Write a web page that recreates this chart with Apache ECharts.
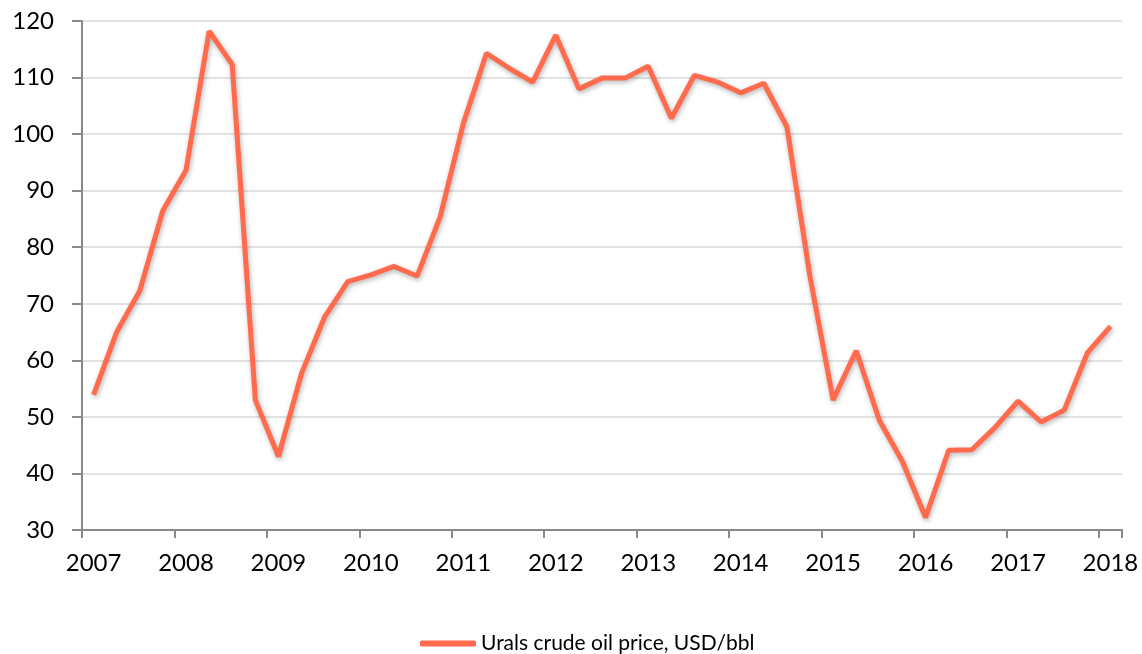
<!DOCTYPE html>
<html>
<head>
<meta charset="utf-8">
<script src="https://cdn.jsdelivr.net/npm/echarts@6/dist/echarts.min.js"></script>
<style>
html,body{margin:0;padding:0;background:#fff;}
#main{width:1142px;height:654px;}
</style>
</head>
<body>
<div id="main"></div>
<script>
// quarterly points, Q1 2007 .. Q1 2018
var quarters=[
  '2007 Q1','2007 Q2','2007 Q3','2007 Q4',
  '2008 Q1','2008 Q2','2008 Q3','2008 Q4',
  '2009 Q1','2009 Q2','2009 Q3','2009 Q4',
  '2010 Q1','2010 Q2','2010 Q3','2010 Q4',
  '2011 Q1','2011 Q2','2011 Q3','2011 Q4',
  '2012 Q1','2012 Q2','2012 Q3','2012 Q4',
  '2013 Q1','2013 Q2','2013 Q3','2013 Q4',
  '2014 Q1','2014 Q2','2014 Q3','2014 Q4',
  '2015 Q1','2015 Q2','2015 Q3','2015 Q4',
  '2016 Q1','2016 Q2','2016 Q3','2016 Q4',
  '2017 Q1','2017 Q2','2017 Q3','2017 Q4',
  '2018 Q1'
];
var uralsPrice=[
  53.9,65.0,72.3,86.5,
  93.6,118.2,112.3,53.0,
  43.0,57.7,67.7,73.9,
  75.1,76.6,74.9,85.4,
  101.9,114.3,111.6,109.2,
  117.5,108.0,109.9,109.9,
  112.0,102.8,110.4,109.2,
  107.3,109.0,101.3,74.8,
  53.0,61.7,49.4,42.1,
  32.2,44.1,44.2,48.1,
  52.8,49.1,51.2,61.3,
  66.0
];
var seriesName='Urals crude oil price, USD/bbl';

var myChart=echarts.init(document.getElementById('main'));
var fontFam='Lato, "Open Sans", sans-serif';
option={
  animation:false,
  backgroundColor:'#fff',
  grid:{left:82,right:20,top:21,bottom:124,containLabel:false},
  legend:{
    data:[seriesName],
    left:415,
    top:628,
    icon:'roundRect',
    itemWidth:56,
    itemHeight:6,
    textStyle:{fontFamily:fontFam,fontSize:21,color:'#000'}
  },
  xAxis:{
    type:'category',
    data:quarters,
    boundaryGap:true,
    axisLine:{lineStyle:{color:'#898989',width:2}},
    axisTick:{show:true,interval:3,length:8,lineStyle:{color:'#898989',width:2}},
    axisLabel:{
      interval:3,
      margin:21,
      fontFamily:fontFam,
      fontSize:24,
      color:'#000',
      formatter:function(v){return v.split(' ')[0];}
    },
    splitLine:{show:false}
  },
  yAxis:{
    type:'value',
    min:30,
    max:120,
    interval:10,
    axisLine:{show:true,lineStyle:{color:'#898989',width:2}},
    axisTick:{show:true,length:10,lineStyle:{color:'#898989',width:2}},
    axisLabel:{margin:28,fontFamily:fontFam,fontSize:24,color:'#000'},
    splitLine:{lineStyle:{color:'#d9d9d9',width:1.5}}
  },
  series:[
    {
      name:seriesName,
      type:'line',
      data:uralsPrice,
      symbol:'none',
      lineStyle:{
        color:'#ff6b4c',
        width:5,
        shadowColor:'rgba(0,0,0,0.3)',
        shadowBlur:5,
        shadowOffsetX:1,
        shadowOffsetY:2
      },
      itemStyle:{color:'#ff6b4c'}
    }
  ]
};
myChart.setOption(option);
</script>
</body>
</html>
